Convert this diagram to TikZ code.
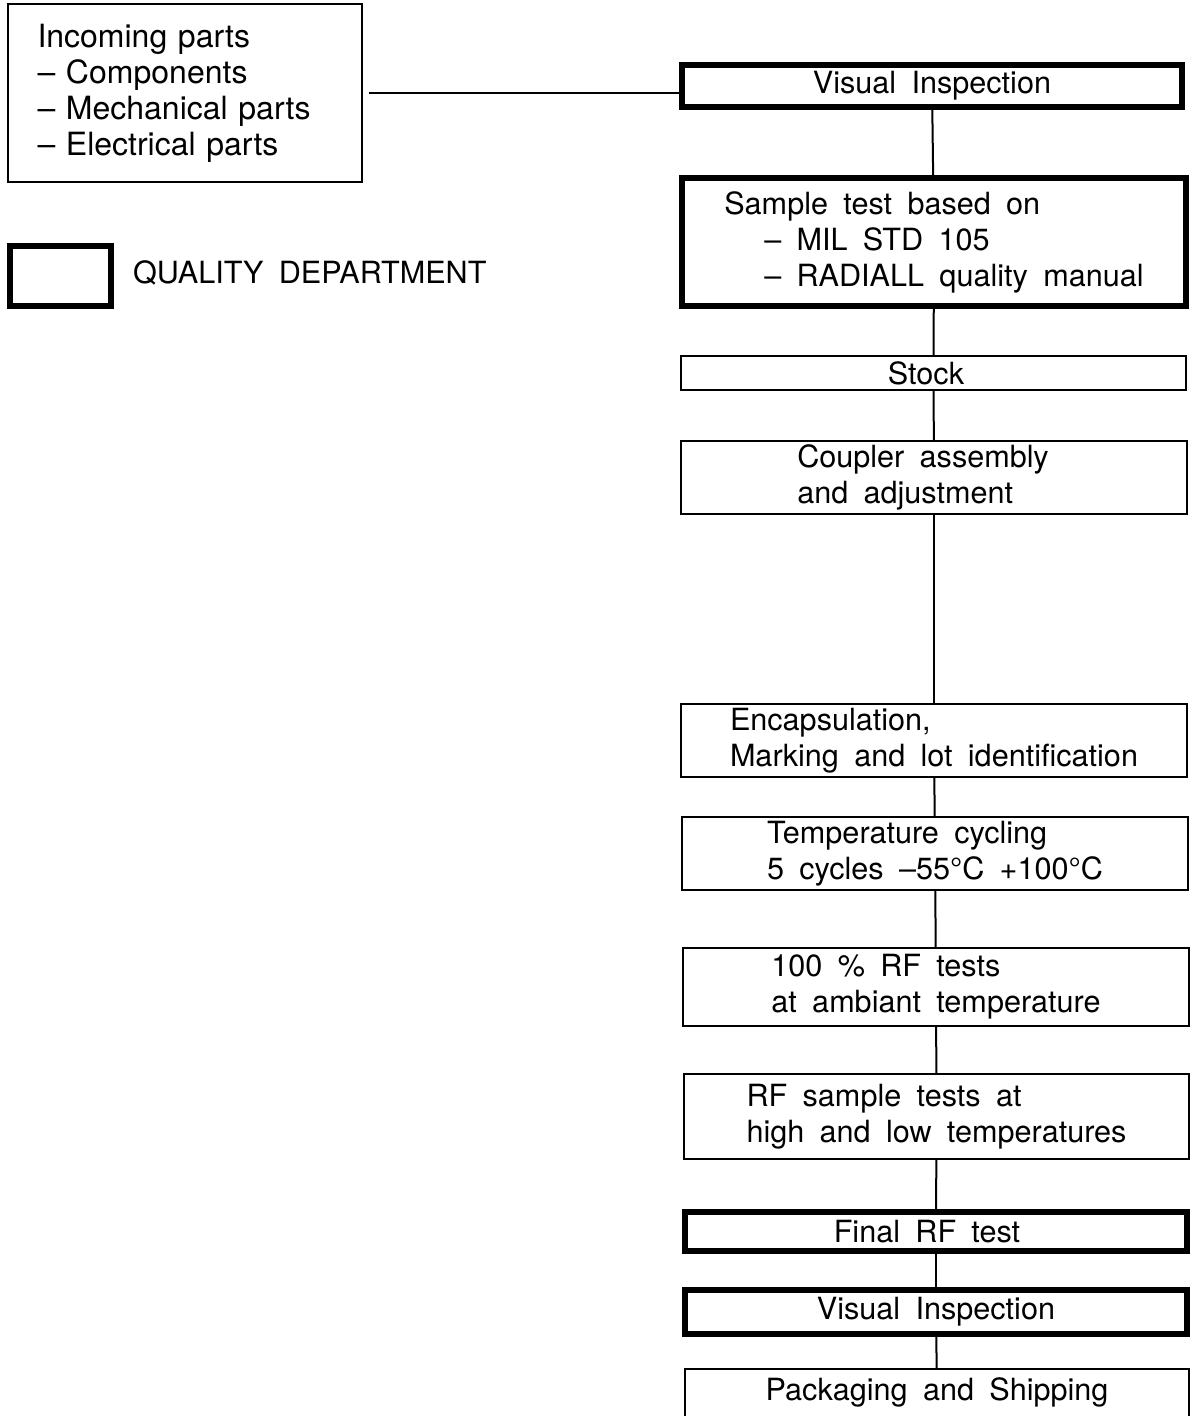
\documentclass[tikz,border=0pt]{standalone}
\usepackage{fontspec}
\setmainfont{TeX Gyre Heros}[WordSpace=1.8]
\usetikzlibrary{positioning}

\begin{document}
\begin{tikzpicture}[x=0.5pt, y=-0.5pt,
                font=\fontsize{15.3}{18}\selectfont,
                stagebox/.style={draw, line width=1pt, minimum width=253pt, inner sep=0pt, align=left},
                qualitybox/.style={stagebox, line width=3pt},
                flow/.style={line width=1pt}]
                \useasboundingbox (0,0) rectangle (1192,1416);

                % legend and incoming parts
                \node[stagebox, minimum width=177pt, minimum height=89pt, text width=147pt, inner xsep=15pt,
                      font=\fontsize{16}{18}\selectfont] (incoming) at (184.5,93.5)
                    {Incoming parts\\-- Components\\-- Mechanical parts\\-- Electrical parts};
                \node[qualitybox, minimum width=50.5pt, minimum height=30pt] (legend) at (60.5,276) {};
                \node[right=6pt of legend, yshift=1.5pt] (legendtext) {QUALITY DEPARTMENT};

                % process chain
                \node[qualitybox, minimum width=250pt, minimum height=21pt] (visone) at (932,86) {Visual Inspection};
                \node[qualitybox, minimum width=252pt, minimum height=64pt] (sample) at (934,242)
                    {Sample test based on\\\hspace*{20pt}-- MIL STD 105\\\hspace*{20pt}-- RADIALL quality manual};
                \node[stagebox, minimum width=252.5pt, minimum height=17pt] (stock) at (933.5,373) {Stock\hspace*{7.5pt}};
                \node[stagebox, minimum height=36.5pt] (coupler) at (934,477.5) {Coupler assembly\hspace*{11pt}\\and adjustment};
                \node[stagebox, minimum height=36.5pt] (encaps) at (934,740.5) {Encapsulation,\\Marking and lot identification};
                \node[stagebox, minimum height=36.5pt] (cycling) at (935,853.5)
                    {Temperature cycling\\5 cycles --55°C +100°C};
                \node[stagebox, minimum height=39pt] (rfall) at (936,987) {100 \% RF tests\\at ambiant temperature};
                \node[stagebox, minimum width=252.5pt, minimum height=42.5pt] (rfsample) at (936.5,1116.5)
                    {RF sample tests at\\high and low temperatures};
                \node[qualitybox, minimum width=251pt, minimum height=19.5pt] (finalrf) at (936,1231.5) {Final RF test\hspace*{9pt}};
                \node[qualitybox, minimum width=251pt, minimum height=22pt] (vistwo) at (936,1312) {Visual Inspection};
                \node[stagebox, minimum width=252pt, minimum height=28pt, text depth=8pt] (packing) at (937,1397) {Packaging and Shipping};

                \draw[flow, shorten <=3pt] (incoming.east) -- (incoming.east -| visone.west);
                \foreach \a/\b in {visone/sample, sample/stock, stock/coupler, coupler/encaps, encaps/cycling,
                                   cycling/rfall, rfall/rfsample, rfsample/finalrf, finalrf/vistwo, vistwo/packing}
                    \draw[flow] (\a) -- (\b);
            \end{tikzpicture}
\end{document}
